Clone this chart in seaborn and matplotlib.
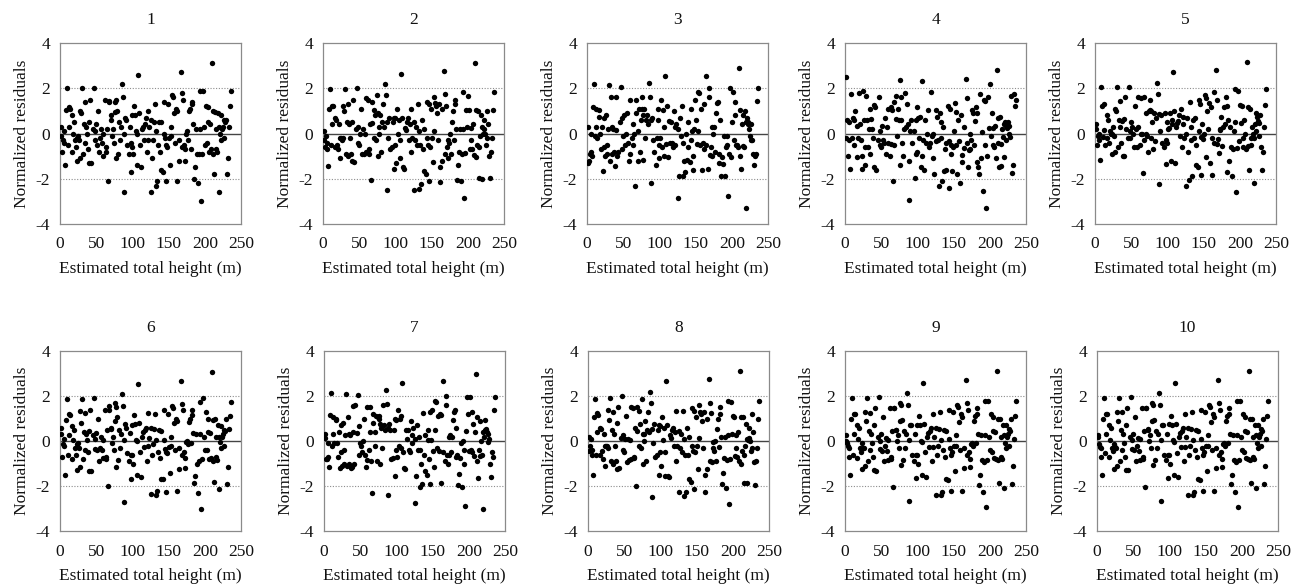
import numpy as np
import pandas as pd
import matplotlib
matplotlib.use("Agg")
import matplotlib.pyplot as plt
import seaborn as sns

# estimated total height (m), shared by all ten panels
heights = [
    1, 2, 3, 4.5, 5, 6, 7, 8.5, 10, 11, 12, 13, 14.5, 16, 17, 18, 19.5, 21, 22, 23,
    24, 25, 26.5, 27, 28, 29.5, 30, 31.5, 33, 34, 35, 36.5, 37, 38, 39.5, 40, 41, 43, 45, 47,
    48, 49, 50, 51.5, 53, 54, 55, 56.5, 58, 59, 60, 62, 63, 64, 65, 66, 67.5, 68, 70, 71,
    72, 73, 74, 75.5, 76, 77, 78, 79, 80.5, 82, 83, 84, 85, 86.5, 88, 89, 90, 91.5, 93, 95,
    96, 97.5, 98, 99, 100, 101, 102.5, 104, 105, 106, 107, 108, 109.5, 111, 112, 113, 114.5, 116, 117, 119,
    120, 121, 122, 123.5, 125, 126, 127, 128.5, 130, 131, 132, 133, 134.5, 136, 137, 138, 139.5, 140, 142, 143,
    144, 145, 146.5, 147, 148, 149, 150.5, 152, 153, 154, 155, 156.5, 158, 159, 160, 161.5, 162, 164, 165, 167,
    168, 169, 170.5, 171, 172, 173, 174.5, 176, 177, 178, 179, 180.5, 182, 183, 184, 185, 186.5, 188, 189, 191,
    192, 193, 194, 195, 196.5, 198, 199, 200, 201, 202.5, 204, 205, 206, 207, 208.5, 210, 211, 212, 213, 214,
    215, 216, 217.5, 218, 219, 220, 221.5, 222, 223, 224, 225, 226.5, 227, 228, 229, 230, 231.5, 233, 234.5, 236,
]

# normalized residuals, one list per model
res_1 = [
    0.3, -0.1, -0.8, -0.3, -0.4, 0.1, -1.4, 1.05, 2.0, -0.5, 0.3, 1.15, 1.1, -0.8, 0.8, 0.0, 0.5, -0.3, -0.6, -1.2,
    -0.2, -0.1, -0.3, 1.0, -1.1, 0.9, 2.0, -0.9, 0.4, 1.4, -0.4, 0.3, 0.0, -0.7, 0.5, -1.3, 1.5, -1.3, 0.2, 2.0,
    0.1, -0.3, 0.4, -0.5, 1.0, -0.8, -0.2, 0.2, -0.4, -1.0, 0.0, 1.5, -0.8, -0.6, 0.2, -2.1, 1.4, 1.45, 0.6, 0.8,
    -0.1, 0.2, -0.4, 1.4, 0.95, -1.1, 1.5, 1.0, -0.9, 0.5, -0.3, 0.3, 2.2, 1.6, -2.6, 0.0, 0.7, 0.6, -0.5, -0.9,
    0.3, -0.4, -1.7, 0.8, -0.6, -0.9, 1.2, 0.8, 0.1, -1.4, 0.0, 2.6, 0.9, -0.5, -1.5, 0.2, 0.3, -0.3, 0.4, 0.7,
    -0.8, 1.0, -0.3, 0.3, -2.6, 0.6, -1.1, -0.3, 0.5, 1.3, -2.3, 0.1, -2.1, -0.5, 0.5, -0.8, 0.5, -1.6, -1.7, 0.0,
    1.4, -0.2, -0.5, -2.1, -0.6, 1.3, -0.2, -1.4, 0.3, -0.1, 1.7, 1.6, 0.9, -0.4, 1.1, 1.0, -2.1, -0.3, -1.2, 2.7,
    -0.6, 1.8, 1.5, -0.5, -1.2, -0.7, 0.0, 0.1, -0.3, 1.0, 1.1, -0.7, 1.4, 1.3, 0.4, -2.0, -1.5, 0.2, -0.9, -2.2,
    -0.9, 0.2, 1.9, -3.0, -0.9, 1.9, 0.3, -0.5, 1.2, -0.4, 1.15, 0.5, -0.8, 0.4, -0.7, 3.1, -0.9, 1.0, -1.8, 0.95,
    -0.7, 0.2, -0.8, 0.9, 0.3, -2.6, 0.0, -0.3, 0.8, 0.2, 0.3, 0.6, -0.2, 0.5, 0.6, -1.8, -1.1, 0.3, 1.2, 1.9,
]
res_2 = [
    0.1, -0.3, -0.6, -0.1, -0.4, -0.7, -1.45, 1.1, 1.95, -0.5, 0.4, 1.2, 1.2, -0.6, 0.7, 0.6, -0.5, -0.7, 0.4, -0.2,
    -1.1, -0.2, -0.3, 1.2, -0.2, 1.0, 1.95, -0.9, 0.5, 1.3, -1.0, 0.4, -0.2, -0.9, 0.5, -1.2, 1.5, -1.25, 0.2, 2.0,
    -0.4, 0.3, -0.5, 0.0, 1.1, -0.9, 0.2, -0.9, 0.0, 1.55, -0.8, 1.5, -0.9, -0.7, 0.4, -2.05, 1.4, 0.45, -0.2, 1.05,
    0.8, -0.3, 1.7, 0.9, -1.0, 0.0, 0.3, 0.8, -0.8, 0.5, 1.3, 0.3, 2.2, 1.7, -2.5, 0.5, -0.2, 0.7, -0.7, -0.6,
    0.5, 0.7, -1.55, -0.5, 0.7, -1.3, 1.1, 0.0, 0.6, -1.1, -0.3, 2.65, 0.7, -1.5, -1.55, 0.25, 0.15, 0.5, 0.7, -0.3,
    0.4, 1.1, -0.8, -0.2, -2.5, 0.5, -0.3, 0.3, -0.5, 1.3, -2.45, 0.1, -0.5, -2.25, 0.6, -0.7, 0.2, -1.65, -1.8, 1.4,
    -0.2, -0.5, 1.3, -2.1, -0.6, 1.1, -0.2, -1.25, 0.1, 1.6, 1.35, 1.2, 0.9, -0.3, 1.3, -1.5, -2.15, 1.1, -1.2, 2.75,
    -0.9, 1.75, 1.2, -0.6, -0.3, -1.1, -0.4, 0.0, -0.9, 0.5, 1.0, -0.3, 1.5, 1.3, 0.2, -2.05, -1.4, -0.8, 0.2, -2.1,
    -0.9, 0.2, 1.85, -2.85, -0.85, 1.05, 0.3, 1.65, 1.05, -0.7, 0.25, -0.3, -0.7, 0.4, -0.95, 3.1, -1.05, 1.05, -0.5, 1.0,
    -1.95, -0.6, -0.1, 0.8, 0.3, -2.0, 0.0, 0.2, 0.6, 0.0, -0.5, 1.0, -0.2, 0.4, -1.0, -1.95, -0.8, -0.2, 1.05, 1.85,
]
res_3 = [
    -1.3, 0.3, -1.2, -0.9, -0.8, 0.0, -1.0, 1.15, 2.2, -0.1, 0.3, 1.1, -0.2, 0.75, 1.05, 0.0, -0.7, 0.3, -1.65, 0.7,
    -0.6, -1.0, 0.8, -0.5, -0.9, 0.2, 2.15, -1.2, 1.6, 0.3, -0.9, 0.2, -0.8, -1.45, 1.6, 0.15, -1.0, -0.8, 0.5, 2.05,
    -0.7, 0.7, -0.1, 0.8, -0.5, 0.0, 0.9, -0.4, -1.2, 1.5, -0.9, -0.2, 0.4, -0.5, 0.0, -2.3, 0.9, 1.5, 0.1, -1.2,
    1.1, -0.8, 0.6, 1.6, 1.1, -1.15, 0.8, 1.1, -0.2, 0.6, 0.8, 0.4, 2.25, 1.6, -2.2, 0.6, 0.7, -0.3, -0.8, -1.4,
    -0.2, 0.6, 1.1, -1.1, -0.5, -0.2, 1.5, -0.6, 1.05, -1.0, 0.3, 2.55, -0.45, 1.2, -1.05, 0.55, -0.4, 0.5, -0.4, -0.6,
    1.0, 0.3, -0.5, 0.4, -2.85, 0.2, -1.9, 0.7, -0.1, 1.2, -1.9, -0.4, -1.2, -1.7, 0.0, -1.15, 0.5, -0.6, -1.25, 1.1,
    -0.3, 0.1, -1.6, -1.0, 0.2, 1.5, 0.6, -0.45, 0.1, 1.85, 1.8, -0.5, 1.1, -1.6, -0.4, 1.3, -0.7, -0.5, 2.55, -1.55,
    2.0, 1.6, -0.95, -0.6, 0.3, -1.0, 0.0, 0.3, -0.8, 0.9, 1.35, 1.4, -0.9, -1.3, 0.6, -1.9, -1.05, -1.35, -0.1, -1.9,
    -0.6, -0.1, -0.5, -2.75, -0.9, 2.0, -1.05, 0.5, 1.85, -0.3, 1.4, 0.8, -0.5, -0.5, -0.6, 2.9, -1.0, 1.05, -1.55, 0.4,
    -0.55, 0.8, -0.6, 1.0, 0.5, -3.3, 0.7, 0.4, 0.5, 0.2, -0.1, -0.3, 0.4, -0.3, -0.9, -1.4, -1.0, -0.9, 1.45, 2.0,
]
res_4 = [
    2.5, -0.2, 0.6, -1.0, -0.3, 0.5, -1.55, 1.75, -0.2, 0.7, -0.5, 0.6, 1.0, -1.05, 0.35, -0.2, 1.8, 0.4, -0.3, -1.55,
    -1.0, 1.9, 0.6, -0.6, -1.4, 1.65, 0.6, -0.6, 0.2, 1.1, -0.9, 0.65, 0.2, -0.2, 1.25, -1.5, 1.15, -1.6, -0.3, 1.6,
    -0.5, 0.1, -0.6, 0.35, -0.3, -0.4, 0.7, -0.9, 0.3, -0.4, 1.1, -1.0, 1.15, -0.45, 1.05, -2.1, 1.4, -0.5, 0.65, 1.65,
    -0.1, 1.1, 0.6, 2.35, -1.4, 0.6, 1.6, -0.4, -1.0, 0.2, 1.8, 0.3, 1.3, 0.4, -2.95, -1.2, 0.1, 0.6, -0.4, 0.1,
    -1.95, 0.6, -0.9, -0.8, 1.15, 0.7, -0.2, 0.75, -1.5, 2.3, -1.0, -0.3, -1.6, 0.6, -0.4, 0.0, 1.05, -0.6, -0.4, 1.85,
    -0.1, -1.1, 0.0, -1.8, 1.05, -0.35, 0.75, -0.3, -2.3, 0.9, -0.2, 0.5, -2.1, 0.3, -1.65, -0.7, -1.6, -0.4, 1.2, -0.35,
    -2.4, 1.1, -0.9, -0.5, -1.65, -0.6, 0.1, 1.35, -0.5, 0.95, -1.8, 0.6, -0.35, -2.2, 0.8, -1.25, -0.95, 0.3, -0.65, 2.4,
    1.55, -0.4, -1.5, -0.75, 0.0, -0.7, -0.3, 1.05, 0.9, -0.5, 0.55, 1.15, 0.9, -1.25, -1.5, -1.8, 1.75, -1.1, 0.05, -2.55,
    1.5, -0.5, 1.45, -3.3, -1.0, 1.6, 0.25, 2.2, -0.1, 0.9, -0.5, 0.25, -0.6, 0.35, -1.1, 2.8, -0.4, 0.7, -1.5, 0.75,
    -0.45, -1.45, 0.2, -0.15, 0.4, -1.05, 0.5, 0.35, -0.3, 0.25, 0.5, 0.0, 0.35, -0.15, 1.65, -1.75, -1.4, 1.75, 1.2, 1.5,
]
res_5 = [
    0.2, 0.4, -0.5, -0.1, 0.0, -0.3, -1.15, 2.05, 1.2, -0.15, 0.15, 1.3, -0.5, 0.8, -0.2, 0.6, -0.4, 0.1, 0.0, -0.9,
    0.0, 0.3, -0.1, 1.1, -0.8, 1.0, 2.05, -0.6, 0.6, 1.45, 0.3, -0.4, 0.55, -1.0, 0.65, -1.0, 1.6, 0.2, -0.2, 2.05,
    0.1, -0.2, 0.5, 0.3, 0.0, -0.6, 1.2, 0.2, -0.6, 1.6, 0.3, -0.5, 0.0, 1.55, 0.0, -1.75, 1.6, -0.3, 0.0, 0.9,
    -0.1, -0.8, 1.0, 1.05, 1.5, -0.2, 1.0, 0.5, -0.7, 0.9, -0.35, 0.7, 2.25, 1.75, -2.25, 0.85, 0.1, 0.8, -0.4, -0.6,
    0.9, -0.3, -1.35, -0.4, 0.5, 0.2, 0.25, 0.9, -1.2, 0.4, 0.6, 2.7, 1.0, -1.3, 0.3, 0.45, 0.55, 0.8, -0.1, 1.1,
    -0.6, 0.4, 0.75, -0.2, -2.3, 0.0, 0.7, -0.8, -2.05, 1.4, 0.3, -0.3, -1.9, 0.6, -0.2, 0.7, -0.5, -1.4, -1.5, 1.5,
    0.1, 1.3, -0.15, -1.85, 0.4, -0.25, 0.0, 1.7, -1.05, 1.55, 1.0, 0.2, 1.35, -1.3, 1.15, -0.2, -1.85, -0.4, 1.85, 2.8,
    -0.45, 1.5, -0.25, -0.85, 0.15, 0.2, 0.75, -0.55, 0.3, 1.15, 0.4, 1.6, -1.7, 1.2, 0.6, -1.2, 0.3, -0.6, -1.9, -0.7,
    0.1, 1.95, 0.5, -2.6, -0.65, 1.9, -0.35, 1.25, 0.45, 1.2, -0.2, -0.6, 0.6, 0.0, -0.7, 3.15, -0.55, 1.15, -1.6, 1.1,
    -0.5, -0.2, 0.3, 0.0, -0.2, -2.2, 0.4, 0.1, 0.9, 0.75, 0.55, 0.45, -0.1, 0.8, -0.6, -1.6, -0.8, 0.3, 1.25, 1.95,
]
res_6 = [
    0.6, 0.3, -0.7, -0.15, -0.2, 0.1, -1.5, 0.95, 1.85, -0.6, 0.25, 1.2, 1.15, -0.8, 0.65, 0.05, 0.5, -0.3, -0.6, -1.3,
    -0.15, -0.1, -0.3, 1.35, -1.15, 0.8, 1.85, -0.8, 0.4, 1.25, -0.4, 0.3, 0.05, -0.5, 0.45, -1.35, 1.4, -1.35, 0.25, 1.9,
    0.1, -0.35, 0.35, -0.4, 1.0, -0.9, -0.3, 0.2, -0.4, -0.75, 0.05, 1.4, -0.8, -0.7, 0.5, -2.0, 1.55, 1.4, 0.55, 0.6,
    -0.1, 0.2, -0.4, 1.7, 0.9, -1.15, 1.5, 1.05, -0.85, 0.5, -0.3, 0.3, 2.1, 1.55, -2.7, 0.05, 0.75, 0.6, -0.55, -0.9,
    0.35, -0.6, -1.7, 0.7, -0.6, -1.0, 1.15, 0.75, 0.05, -1.5, 0.0, 2.55, 0.8, -0.5, -1.6, 0.2, 0.4, -0.25, 0.5, 0.6,
    -0.9, 1.25, -0.2, 0.15, -2.35, 0.6, -0.6, -0.15, 0.55, 1.2, -2.4, 0.05, -2.2, -0.5, 0.5, -0.75, 0.45, -1.7, -1.7, 0.05,
    1.4, -0.35, -0.5, -2.25, -0.55, 1.2, -0.25, -1.4, 0.2, -0.2, 1.55, 1.45, 0.8, -0.4, 1.0, 0.9, -2.2, -0.3, -1.25, 2.65,
    -0.6, 1.65, 1.4, -0.5, -1.2, -0.75, -0.05, 0.0, -0.15, 0.85, 1.0, -0.1, 1.4, 1.15, 0.35, -1.85, -1.55, 0.3, -1.0, -2.3,
    -0.9, 0.3, 1.75, -3.0, -0.8, 1.9, 0.2, -0.4, 1.3, -0.4, 1.0, 0.4, -0.8, 0.35, -0.75, 3.05, -0.9, 0.95, -1.8, 1.0,
    -0.7, 0.2, -0.85, 0.7, 0.2, -2.15, -0.05, -0.3, 0.65, 0.2, 0.3, 0.5, -0.2, 0.45, 1.0, -1.9, -1.15, 0.55, 1.1, 1.75,
]
res_7 = [
    0.3, 0.15, -0.8, -0.8, -0.7, -0.1, -1.15, 1.15, 2.15, -0.2, 0.3, 1.05, -0.1, 0.95, 1.0, -0.1, -0.7, 0.4, -1.2, 0.7,
    -0.5, -1.1, 0.8, -0.4, -1.0, 0.25, 2.1, -1.1, 1.05, 0.3, -1.0, 0.25, -1.2, -1.15, 1.55, 0.4, -1.0, 1.6, 0.35, 2.05,
    -0.6, 0.65, -0.1, -0.2, -0.5, 0.0, 1.0, -0.6, -1.15, 1.5, -0.85, -0.4, 0.4, 1.5, -0.9, -2.3, 1.2, 0.8, 0.4, -0.2,
    1.1, -0.9, 1.05, 1.1, 1.0, -1.0, 0.75, 0.6, -0.3, 1.6, 0.7, 0.5, 2.25, 1.65, -2.4, 0.6, 0.75, 0.5, -0.8, -0.75,
    0.5, 1.0, -1.55, 0.95, -0.4, -0.7, 1.4, -0.2, 1.0, -0.3, 1.1, 2.6, -0.5, -1.2, -1.25, 0.5, 0.1, 0.5, -0.4, -0.5,
    0.9, -0.1, 0.25, 0.6, -2.75, 0.1, -1.55, 0.7, -0.4, 0.2, -2.05, -0.4, -1.0, -1.9, 1.25, -0.6, 0.25, -1.35, -1.5, 0.5,
    0.05, -0.8, 1.3, -1.9, 0.05, 1.4, -0.45, -1.15, 0.5, 1.8, 1.75, -0.3, 1.1, -0.45, 1.2, 1.15, -1.85, -0.5, 2.65, -0.9,
    2.0, 1.6, -0.6, -1.0, 0.2, -0.6, 0.25, -0.5, 0.2, 0.95, 1.3, 1.4, -0.7, 0.6, -0.6, -1.95, -1.45, -0.75, -0.1, -2.05,
    0.0, -0.4, -1.0, -2.9, 0.45, 1.95, 1.2, -0.45, 1.95, -0.4, 1.3, -0.5, 0.75, -0.65, 0.4, 3.0, -0.9, 1.05, -1.65, -0.4,
    -0.65, 0.9, 0.0, -0.6, 0.4, -3.0, 0.2, 0.95, 0.5, 0.55, 0.4, -0.05, 0.3, 0.1, -1.0, -1.6, -0.5, -0.7, 1.4, 1.95,
]
res_8 = [
    0.2, -0.45, -0.2, 0.1, -0.6, -0.4, -1.5, 1.05, 1.85, -0.6, 0.4, 1.25, 1.15, -0.6, 0.6, 0.55, -0.45, -0.8, 0.3, -0.2,
    -1.1, -0.2, -0.2, 1.4, -0.3, 0.95, 1.9, -0.9, 0.5, 1.3, -1.0, 0.3, -0.2, -0.9, 0.8, -1.25, 1.5, -1.2, 0.15, 2.0,
    -0.4, 0.25, -0.5, 0.1, 1.1, -0.95, 0.1, -0.85, 0.05, 1.5, -0.8, 1.45, -0.75, -0.7, 0.6, -2.0, 1.5, 0.45, -0.2, 1.35,
    0.75, -0.3, 1.85, 0.3, -1.0, 0.0, 0.3, 0.9, -0.9, 0.5, 1.3, 0.4, 2.2, 1.7, -2.5, 0.55, -0.1, 0.75, -0.7, -0.6,
    0.5, 0.7, -1.5, -0.5, 0.65, -1.1, 1.05, 0.05, 0.6, -1.55, -0.5, 2.65, 0.7, -1.55, -1.6, 0.25, 0.15, 0.5, 0.6, -0.2,
    0.4, 1.35, -0.9, -0.2, -2.25, 0.45, -0.3, 0.3, -0.5, 1.35, -2.45, 0.1, -0.6, -2.25, 0.6, -0.6, 0.2, -1.7, -1.8, 1.45,
    -0.2, -0.45, 1.35, -2.15, -0.5, 1.05, -0.2, -1.25, 0.15, 1.6, 1.3, 1.2, 0.9, -0.3, 1.3, -1.5, -2.25, 1.0, -1.25, 2.75,
    -0.9, 1.7, 1.25, -0.95, -0.3, -0.05, -0.45, 0.0, -0.9, 0.55, 1.0, -0.25, 1.5, 1.2, 0.2, -1.9, -1.4, -0.75, 0.2, -2.1,
    -0.85, 0.25, 1.8, -2.8, -0.8, 1.75, 0.3, 1.1, 1.05, -0.65, 0.25, -0.3, -0.7, 0.4, -0.9, 3.1, -1.0, 1.05, -0.45, 1.05,
    -1.85, -0.6, -0.2, 0.75, 0.1, -1.85, 0.05, 0.15, 0.6, 0.0, -0.45, 1.2, -0.3, 0.4, -0.95, -1.95, -0.9, -0.3, 1.0, 1.8,
]
res_9 = [
    0.0, 0.25, -0.1, -0.2, -0.3, -0.7, -1.5, 1.0, 1.9, -0.6, 0.3, 1.2, 1.2, -0.75, 0.7, 0.1, 0.6, -0.3, -0.5, -1.25,
    -0.1, -0.3, -0.3, 1.3, -1.1, 0.9, 1.9, -0.9, 0.45, 1.25, -0.4, 0.3, -0.1, -0.7, 0.7, -1.3, 1.45, -1.35, 0.2, 1.95,
    0.0, -0.35, 0.3, -0.45, 1.05, -0.9, -0.2, 0.15, -0.45, -0.85, 0.05, 1.45, -0.8, -0.7, 0.45, -2.05, 1.45, 1.45, 0.5, 0.5,
    0.0, 0.25, -0.3, 1.7, 0.9, -1.05, 1.6, 0.95, -0.85, 0.45, -0.3, 0.3, 2.15, 1.6, -2.65, 0.05, 0.7, 0.7, -0.6, -0.9,
    0.3, -0.6, -1.65, 0.7, -0.6, -1.0, 1.1, 0.7, 0.0, -1.5, -0.05, 2.6, 0.75, -0.5, -1.6, 0.2, 0.35, -0.25, 0.45, 0.6,
    -0.9, 1.2, -0.25, 0.2, -2.4, 0.6, -0.6, -0.2, 0.55, 1.3, -2.4, 0.05, -2.25, -0.4, 0.5, -0.7, 0.45, -1.7, -1.75, 0.1,
    1.4, -0.3, -0.6, -2.2, -0.5, 1.3, -0.2, -1.35, 0.25, -0.2, 1.6, 1.5, 0.85, -0.4, 1.2, 1.05, -2.2, -0.3, -1.2, 2.7,
    -0.6, 1.7, 1.4, -0.5, -1.15, -0.8, -0.15, -0.1, -0.2, 0.9, 1.1, -0.1, 1.45, 1.2, 0.3, -1.95, -1.5, 0.25, -0.85, -2.25,
    -0.95, 0.25, 1.8, -2.95, -0.85, 1.8, 0.2, -0.4, 1.2, -0.5, 1.05, 0.45, -0.75, 0.4, -0.8, 3.1, -0.85, 1.0, -1.85, 1.0,
    -0.7, 0.2, -0.8, 0.7, 0.25, -2.1, -0.1, -0.3, 0.7, 0.2, 0.3, 0.55, -0.2, 0.45, 1.0, -1.9, -1.1, 0.1, 1.1, 1.8,
]
res_10 = [
    0.2, 0.25, -0.15, -0.25, -0.3, -0.7, -1.5, 1.0, 1.9, -0.55, 0.3, 1.2, 1.2, -0.7, 0.7, 0.05, 0.6, -0.3, -0.45, -1.25,
    -0.15, -0.25, -0.3, 1.3, -1.1, 0.9, 1.9, -0.9, 0.5, 1.3, -0.4, 0.3, -0.1, -0.7, 0.7, -1.3, 1.45, -1.3, 0.2, 1.95,
    0.05, -0.35, 0.3, -0.4, 1.05, -0.9, -0.2, 0.15, -0.45, -0.85, 0.1, 1.45, -0.8, -0.7, 0.45, -2.05, 1.45, 1.45, 0.5, 0.55,
    0.0, 0.25, -0.3, 1.7, 0.9, -1.05, 1.6, 0.95, -0.85, 0.45, -0.3, 0.3, 2.15, 1.6, -2.65, 0.05, 0.7, 0.7, -0.6, -0.85,
    0.3, -0.6, -1.65, 0.75, -0.6, -1.0, 1.1, 0.7, 0.05, -1.5, -0.05, 2.6, 0.75, -0.55, -1.6, 0.2, 0.35, -0.25, 0.45, 0.6,
    -0.9, 1.2, -0.25, 0.2, -2.4, 0.6, -0.6, -0.2, 0.55, 1.3, -2.4, 0.05, -2.25, -0.4, 0.5, -0.7, 0.45, -1.7, -1.75, 0.1,
    1.4, -0.3, -0.6, -2.2, -0.5, 1.3, -0.2, -1.35, 0.25, -0.2, 1.6, 1.5, 0.85, -0.4, 1.2, 1.05, -2.2, -0.3, -1.2, 2.7,
    -0.6, 1.7, 1.4, -0.5, -1.15, -0.8, -0.15, -0.1, -0.2, 0.9, 1.1, -0.1, 1.45, 1.2, 0.3, -1.9, -1.5, 0.25, -0.85, -2.25,
    -0.95, 0.25, 1.8, -2.95, -0.85, 1.8, 0.2, -0.4, 1.2, -0.5, 1.05, 0.45, -0.75, 0.4, -0.8, 3.1, -0.85, 1.0, -1.85, 1.0,
    -0.7, 0.2, -0.8, 0.7, 0.25, -2.1, -0.1, -0.3, 0.7, 0.2, 0.3, 0.55, -0.2, 0.45, 1.0, -1.9, -1.1, 0.1, 1.1, 1.8,
]

panels = ["1", "2", "3", "4", "5", "6", "7", "8", "9", "10"]
residuals = [res_1, res_2, res_3, res_4, res_5, res_6, res_7, res_8, res_9, res_10]
x_ticks = [0, 50, 100, 150, 200, 250]
y_ticks = [-4, -2, 0, 2, 4]
y_tick_labels = ["-4", "-2", "0", "2", "4"]

df = pd.concat(
    [pd.DataFrame({"panel": p, "height": heights, "resid": r}) for p, r in zip(panels, residuals)],
    ignore_index=True,
)

sns.set_theme(style="white")
plt.rcParams["font.family"] = ["Liberation Serif", "DejaVu Serif"]
fs = 12.5

W, H = 1293, 588
fig = plt.figure(figsize=(W / 100, H / 100), dpi=100)

# axes boxes in pixels: left, top, right, bottom
lefts_top = [60, 323, 587, 845, 1095]
lefts_bot = [60, 324, 588, 845, 1097]
axw = 181

for i, p in enumerate(panels):
    if i < 5:
        left, top, bottom = lefts_top[i], 43, 224
    else:
        left, top, bottom = lefts_bot[i - 5], 351, 531
    ax = fig.add_axes([left / W, 1 - bottom / H, axw / W, (bottom - top) / H])
    sub = df[df["panel"] == p]
    ax.axhline(0, color="#444444", lw=1.0, zorder=1)
    for g in (-2, 2):
        ax.axhline(g, color="#8c8c8c", lw=0.8, ls=(0, (1, 1.5)), zorder=1)
    sns.scatterplot(data=sub, x="height", y="resid", ax=ax, color="black",
                    s=15, linewidth=0, zorder=3, legend=False)
    ax.set_xlim(0, 250)
    ax.set_ylim(-4, 4)
    ax.set_xticks(x_ticks)
    ax.set_yticks(y_ticks)
    ax.set_yticklabels(y_tick_labels)
    for sp in ax.spines.values():
        sp.set_color("#8a8a8a")
        sp.set_linewidth(0.9)
    ax.tick_params(axis="both", direction="out", length=3, width=0.8,
                   color="#8a8a8a", labelsize=fs, labelcolor="#111111")
    ax.tick_params(axis="x", pad=6)
    ax.tick_params(axis="y", pad=4)
    ax.set_title(p, fontsize=fs, pad=14, color="#111111")
    ax.set_xlabel("Estimated total height (m)", fontsize=fs, labelpad=6, color="#111111")
    ax.set_ylabel("Normalized residuals", fontsize=fs, labelpad=4, color="#111111")

fig.savefig("out.png", dpi=100, facecolor="white")
